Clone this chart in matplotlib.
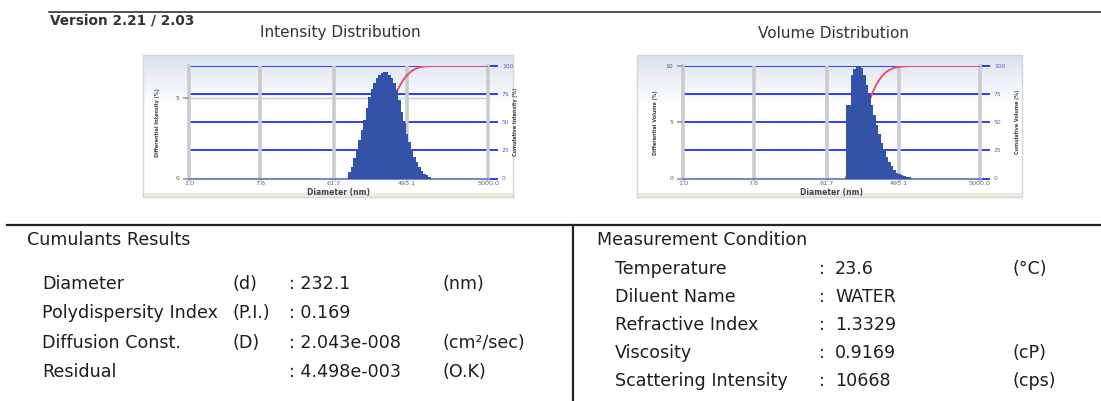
import numpy as np
import matplotlib.pyplot as plt
from matplotlib.patches import Rectangle

W, H = 1101, 401

# shared log axis of both distributions (nm)
x_ticks = [1.0, 7.6, 61.7, 495.1, 5000.0]
x_tick_labels = ['1.0', '7.6', '61.7', '495.1', '5000.0']
cum_ticks = [0, 25, 50, 75, 100]

# intensity distribution: bin edges (nm) and differential intensity (%)
int_edges = [93.0, 99.9, 107.2, 115.1, 123.6, 132.7, 142.5, 153.0, 164.3, 176.4,
             189.4, 203.3, 218.3, 234.4, 251.7, 270.2, 290.2, 311.5, 334.5, 359.2,
             385.6, 414.1, 444.6, 477.3, 512.5, 550.3, 590.9, 634.4, 681.2, 731.4,
             785.3, 843.2, 905.4, 972.1]
int_values = [0.42, 0.73, 1.25, 1.77, 2.39, 3.01, 3.64, 4.36, 5.09, 5.55,
              5.92, 6.23, 6.44, 6.59, 6.65, 6.61, 6.44, 6.23, 5.92, 5.50,
              4.88, 4.15, 3.43, 2.80, 2.29, 1.77, 1.35, 1.04, 0.73, 0.48,
              0.31, 0.19, 0.10]
int_ylim = 7
int_yticks = [0, 5]

# volume distribution: bin edges (nm) and differential volume (%)
vol_edges = [106.0, 113.9, 122.4, 131.5, 141.3, 151.8, 163.1, 175.3, 188.3, 202.4,
             217.4, 233.6, 251.0, 269.7, 289.8, 311.4, 334.6, 359.5, 386.3, 415.1,
             446.0, 479.2, 514.9, 553.3, 594.5, 638.8, 686.4]
vol_values = [6.53, 6.53, 9.20, 9.70, 10.00, 10.00, 9.79, 9.20, 8.31, 7.42,
              6.53, 5.64, 4.75, 3.95, 3.18, 2.52, 1.93, 1.48, 1.10, 0.80,
              0.53, 0.36, 0.27, 0.21, 0.15, 0.09]
vol_ylim = 10
vol_yticks = [0, 5, 10]

cumulants_rows = [
    ('Diameter', '(d)', ': 232.1', '(nm)'),
    ('Polydispersity Index', '(P.I.)', ': 0.169', ''),
    ('Diffusion Const.', '(D)', ': 2.043e-008', '(cm\u00b2/sec)'),
    ('Residual', '', ': 4.498e-003', '(O.K)'),
]
condition_rows = [
    ('Temperature', '23.6', '(\u00b0C)'),
    ('Diluent Name', 'WATER', ''),
    ('Refractive Index', '1.3329', ''),
    ('Viscosity', '0.9169', '(cP)'),
    ('Scattering Intensity', '10668', '(cps)'),
]

BAR = '#3352a8'
GRID_BLUE = '#1f2ef0'
GRID_GRAY = '#c9cbce'
RED = '#e8506a'
TXT = '#1e1e1e'
FONT = 'DejaVu Sans'
TS = 12.6

fig = plt.figure(figsize=(W / 100, H / 100), dpi=100)
bg = fig.add_axes([0, 0, 1, 1])
bg.axis('off')


def rect(x0, x1, y0, y1):
    return [x0 / W, 1 - y1 / H, (x1 - x0) / W, (y1 - y0) / H]


def panel(x0, x1, y0, y1):
    t = np.linspace(0, 1, 120)
    top = np.array([0.86, 0.89, 0.94])
    rows = top + (1 - top) * np.clip(t / 0.35, 0, 1)[:, None]
    bg.imshow(rows[:, None, :], extent=(x0, x1, y1, y0), aspect='auto', zorder=1)
    bg.add_patch(Rectangle((x0, y1 - 4), x1 - x0, 4, color='#eeebe3', zorder=2))
    bg.add_patch(Rectangle((x0, y0), x1 - x0, y1 - y0, fill=False,
                           ec='#d6d6d6', lw=1, zorder=3))


def distribution(box, edges, values, ylim, yticks, helper, title, name,
                 ylab_x, rlab_x):
    x0, x1, y0, y1 = box
    cum = fig.add_axes(rect(x0, x1, y0, y1))
    diff = cum.twinx()

    cum.set_facecolor('none')
    cum.set_xscale('log')
    cum.set_xlim(1, 5000)
    cum.set_ylim(0, 100)

    # cumulative curve and blue grid (right scale)
    for v in cum_ticks[1:]:
        cum.axhline(v, color=GRID_BLUE, lw=1.3, zorder=1)
    for i, xt in enumerate(x_ticks):
        cum.axvline(xt, color=GRID_GRAY, lw=2.6, zorder=2,
                    clip_on=(0 < i < len(x_ticks) - 1))
    cum_vals = np.concatenate([[0], np.cumsum(values)]) / np.sum(values) * 100
    cum.plot(edges + [5000.0], list(cum_vals) + [100], color=RED, lw=1.4, zorder=3)

    cum.yaxis.tick_right()
    cum.set_yticks(cum_ticks)
    cum.set_yticklabels([str(v) for v in cum_ticks])
    cum.tick_params(axis='y', length=7, width=1.3, color=GRID_BLUE, pad=3,
                    labelsize=4.3, labelcolor='#6a5acd')
    cum.set_xticks(x_ticks)
    cum.set_xticklabels(x_tick_labels)
    cum.xaxis.set_minor_locator(plt.NullLocator())
    cum.tick_params(axis='x', length=1.5, width=2, color=GRID_GRAY, pad=0.5,
                    labelsize=4.6, labelcolor='#666666')
    for s in ['top', 'left', 'right']:
        cum.spines[s].set_visible(False)
    cum.spines['bottom'].set_color('#5a74c8')
    cum.spines['bottom'].set_linewidth(1.2)

    # differential bars (left scale)
    diff.set_ylim(0, ylim)
    diff.yaxis.tick_left()
    diff.set_yticks(yticks)
    diff.set_yticklabels([str(v) for v in yticks])
    diff.tick_params(axis='y', length=4, width=1.2, color='#9a9a9a', pad=3,
                     labelsize=4.3, labelcolor='#555555')
    for s in diff.spines.values():
        s.set_visible(False)
    for v in helper:
        diff.axhline(v, color=GRID_GRAY, lw=1, zorder=0)
    diff.bar(edges[:-1], values, width=np.diff(edges), align='edge',
             color=BAR, lw=0, zorder=2)

    yc = (y0 + y1) / 2
    bg.text(ylab_x, yc, 'Differential %s (%%)' % name, rotation=90, ha='center',
            va='center', fontsize=3.5, fontweight='bold', color='#444444', zorder=5)
    bg.text(rlab_x, yc, 'Cumulative %s (%%)' % name, rotation=90, ha='center',
            va='center', fontsize=3.5, fontweight='bold', color='#444444', zorder=5)
    bg.text((x0 + x1) / 2, 192.3, 'Diameter (nm)', ha='center', va='center',
            fontsize=5.5, fontweight='bold', color='#444444', zorder=5)
    bg.text((x0 + x1) / 2 + 2, 33, title, ha='center', va='center',
            fontsize=11, color='#333333', family=FONT, zorder=5)


panel(143, 513, 55, 197)
panel(637, 1022, 55, 197)
distribution((189, 488, 66, 178.5), int_edges, int_values, int_ylim, int_yticks,
             [5], 'Intensity Distribution', 'Intensity', 158, 516)
distribution((683, 980, 66, 178.5), vol_edges, vol_values, vol_ylim, vol_yticks,
             [], 'Volume Distribution', 'Volume', 655, 1017)

# frame lines
bg.plot([49, W], [12, 12], color='#222222', lw=1.1, zorder=5)
bg.plot([7, W], [225, 225], color='#222222', lw=1.6, zorder=5)
bg.plot([573, 573], [225, H], color='#222222', lw=1.6, zorder=5)
bg.text(50, 21, 'Version 2.21 / 2.03', ha='left', va='center', fontsize=9.8,
        fontweight='bold', color='#333333', family=FONT, zorder=5)

# cumulants table
bg.text(27, 240, 'Cumulants Results', ha='left', va='center', fontsize=TS,
        color=TXT, family=FONT)
for i, (lab, sym, val, unit) in enumerate(cumulants_rows):
    y = 284 + i * 29.3
    bg.text(42, y, lab, ha='left', va='center', fontsize=TS, color=TXT, family=FONT)
    bg.text(232, y, sym, ha='left', va='center', fontsize=TS, color=TXT, family=FONT)
    bg.text(289, y, val, ha='left', va='center', fontsize=TS, color=TXT, family=FONT)
    bg.text(442, y, unit, ha='left', va='center', fontsize=TS, color=TXT, family=FONT)

# measurement condition table
bg.text(597, 240, 'Measurement Condition', ha='left', va='center', fontsize=TS,
        color=TXT, family=FONT)
for i, (lab, val, unit) in enumerate(condition_rows):
    y = 269 + i * 28
    bg.text(615, y, lab, ha='left', va='center', fontsize=TS, color=TXT, family=FONT)
    bg.text(819, y, ':', ha='left', va='center', fontsize=TS, color=TXT, family=FONT)
    bg.text(835, y, val, ha='left', va='center', fontsize=TS, color=TXT, family=FONT)
    bg.text(1013, y, unit, ha='left', va='center', fontsize=TS, color=TXT, family=FONT)

bg.set_xlim(0, W)
bg.set_ylim(H, 0)
fig.savefig('out.png', dpi=100)
